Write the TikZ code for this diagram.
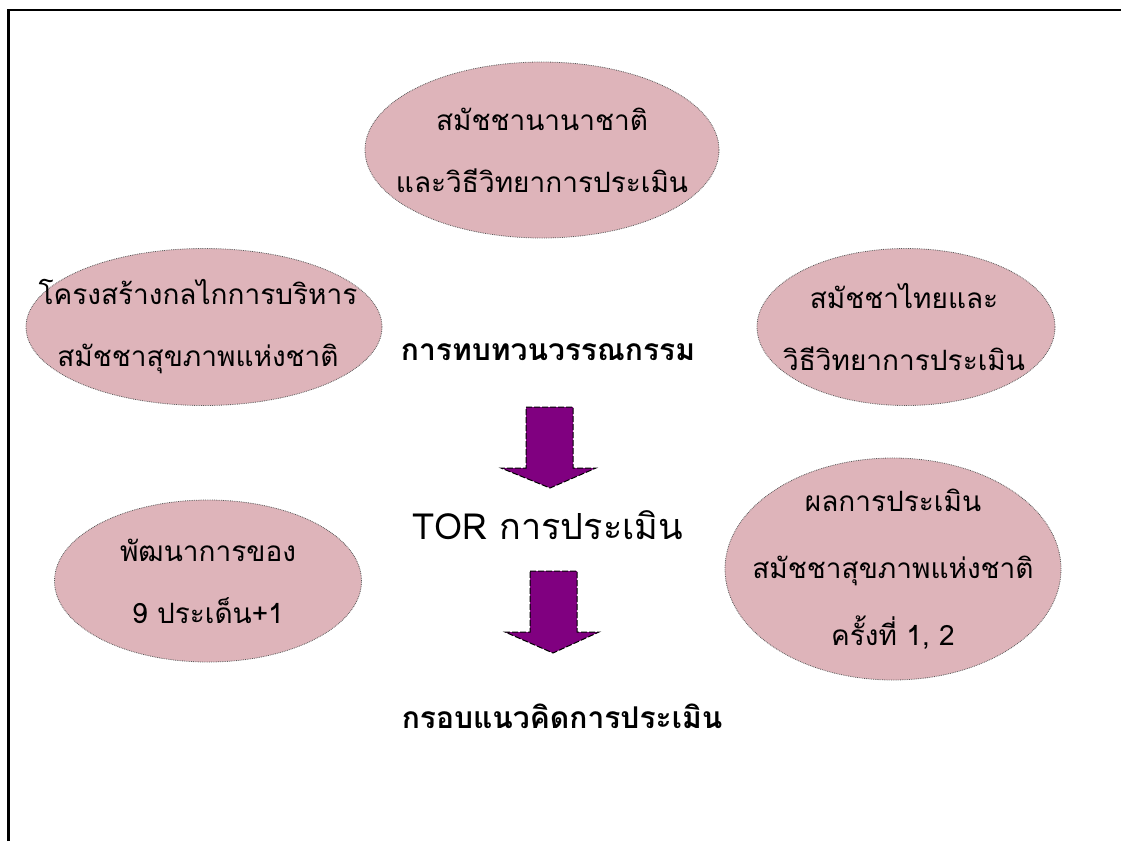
\documentclass[tikz,border=0pt]{standalone}
\usepackage{fontspec}
\usetikzlibrary{shapes.geometric}
\newfontfamily\thai[Script=Thai]{Loma}
\definecolor{pinkfill}{RGB}{222,180,186}
\definecolor{arrowpurple}{RGB}{128,0,128}
\tikzset{
  bubble/.style={ellipse, fill=pinkfill, draw=gray!70!black, densely dotted, line width=0.8pt, inner sep=0pt},
  bubbletext/.style={align=center, inner sep=0pt, font=\thai\fontsize{28}{62}\selectfont},
  bigarrow/.style={fill=arrowpurple, draw=black, dash pattern=on 6pt off 2pt, line width=1pt},
  heading/.style={font=\thai\bfseries\fontsize{30}{34}\selectfont, inner sep=0pt}
}
\begin{document}
\begin{tikzpicture}[x=1pt,y=-1pt]
\useasboundingbox (0,0) rectangle (1121,841);
% frame
\coordinate (fbl) at (8.5,841);
\coordinate (ftl) at (8.5,10);
\coordinate (ftr) at (1121,10);
\draw[line width=2.2pt] (fbl) -- (ftl) -- (ftr);
% ellipses
\node[bubble, minimum width=354pt, minimum height=176pt] (top) at (542,150) {};
\node[bubbletext] (topt) at (top) {สมัชชานานาชาติ\\และวิธีวิทยาการประเมิน};
\node[bubble, minimum width=356pt, minimum height=157pt] (left) at (204,327) {};
\node[bubbletext] (leftt) at (198,327) {โครงสร้างกลไกการบริหาร\\สมัชชาสุขภาพแห่งชาติ};
\node[bubble, minimum width=298pt, minimum height=157pt] (right) at (906,327) {};
\node[bubbletext] (rightt) at (904,327) {สมัชชาไทยและ\\วิธีวิทยาการประเมิน};
\node[bubble, minimum width=307pt, minimum height=162pt] (bl) at (208,581) {};
\node[bubbletext] (blt) at (bl) {พัฒนาการของ\\9 ประเด็น+1};
\node[bubble, minimum width=336pt, minimum height=222pt] (br) at (893,569) {};
\node[bubbletext, font=\thai\fontsize{28}{67}\selectfont] (brt) at (br) {ผลการประเมิน\\สมัชชาสุขภาพแห่งชาติ\\ครั้งที่ 1, 2};
% texts
\node[heading] (lit) at (548,352) {การทบทวนวรรณกรรม};
\node[font=\thai\fontsize{36}{40}\selectfont, inner sep=0pt] (tor) at (548,525) {TOR การประเมิน};
\node[heading] (frame) at (562,716) {กรอบแนวคิดการประเมิน};
% arrows
\draw[bigarrow] (526,407) -- (573,407) -- (573,468) -- (596,468) -- (550,488) -- (501,468) -- (526,468) -- cycle;
\draw[bigarrow] (530,571) -- (577,571) -- (577,632) -- (599,632) -- (553,653) -- (505,632) -- (530,632) -- cycle;
\end{tikzpicture}
\end{document}
